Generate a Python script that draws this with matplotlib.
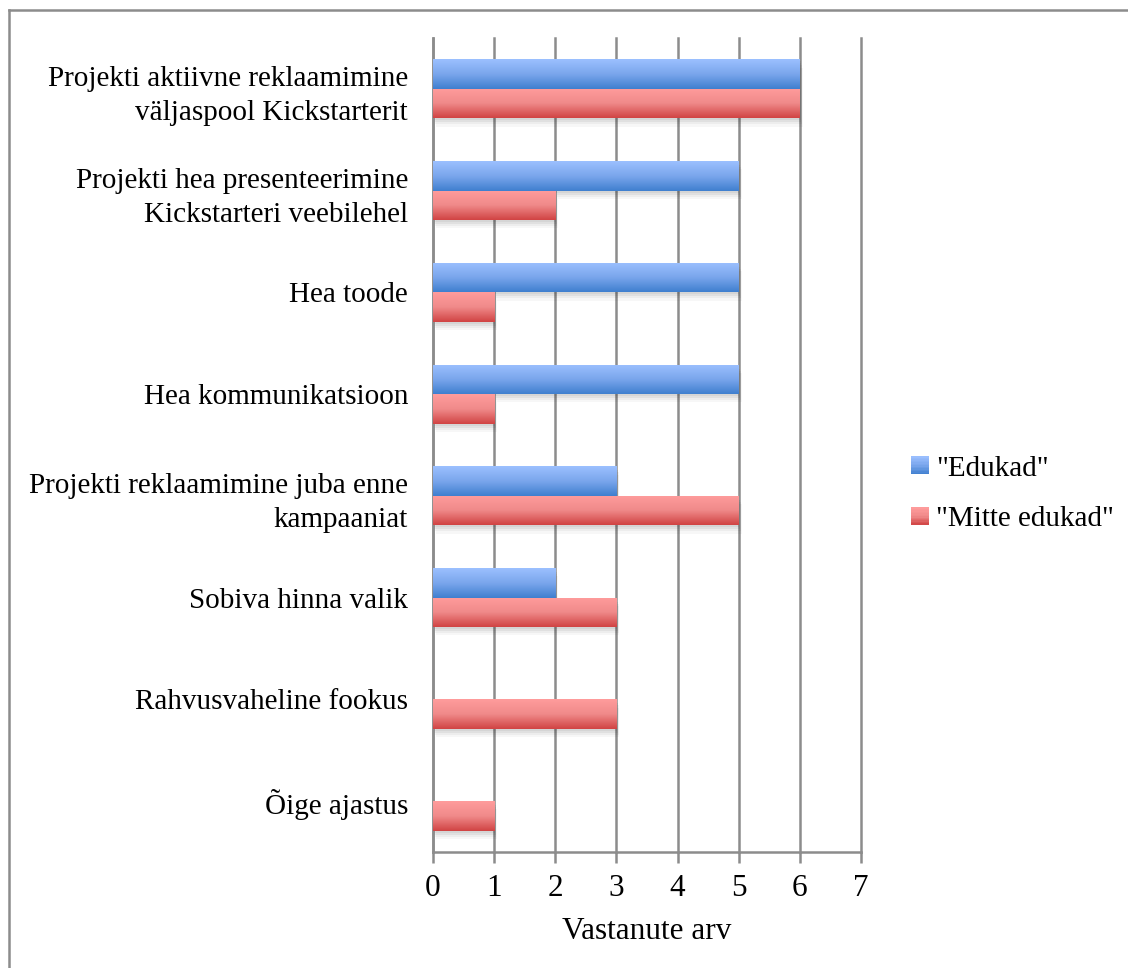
import numpy as np
import matplotlib
matplotlib.use("Agg")
import matplotlib.pyplot as plt
from matplotlib.colors import LinearSegmentedColormap
from matplotlib.patches import Rectangle
from matplotlib.lines import Line2D
from matplotlib.legend_handler import HandlerBase

categories = [
    "Projekti aktiivne reklaamimine\nväljaspool Kickstarterit",
    "Projekti hea presenteerimine\nKickstarteri veebilehel",
    "Hea toode",
    "Hea kommunikatsioon",
    "Projekti reklaamimine juba enne\nkampaaniat",
    "Sobiva hinna valik",
    "Rahvusvaheline fookus",
    "Õige ajastus",
]
edukad = [6, 5, 5, 5, 3, 2, 0, 0]
mitte_edukad = [6, 2, 1, 1, 5, 3, 3, 1]
series_names = ['"Edukad"', '"Mitte edukad"']
xticks = [0, 1, 2, 3, 4, 5, 6, 7]
xlabel = "Vastanute arv"

plt.rcParams['font.family'] = ['Liberation Serif', 'DejaVu Serif']

blue_cmap = LinearSegmentedColormap.from_list("b", ["#9cc0ff", "#7aa6ec", "#3f7fcf"])
red_cmap = LinearSegmentedColormap.from_list("r", ["#ff9c9c", "#f08a8a", "#d04343"])

fig = plt.figure(figsize=(11.28, 9.68), dpi=100)
ax = fig.add_axes([433/1128, 1-852/968, (861-433)/1128, (852-38)/968])

y = np.arange(len(categories))
h = 0.29
off = 0.145
grad = np.linspace(0, 1, 256).reshape(-1, 1)

def draw_gradient_bars(bars, cmap):
    for b in bars:
        x0, y0 = b.get_x(), b.get_y()
        w, hh = b.get_width(), b.get_height()
        if w <= 0:
            continue
        # soft shadow
        for k, a in enumerate([0.05, 0.05, 0.04, 0.03]):
            sh = Rectangle((x0 + 0.012 * (k + 1), y0 + 0.02 * (k + 1)), w, hh,
                           facecolor="#000000", alpha=a, edgecolor="none", zorder=2)
            ax.add_patch(sh)
        im = ax.imshow(grad, cmap=cmap, aspect='auto',
                       extent=(x0, x0 + w, y0 + hh, y0), zorder=3,
                       interpolation='bilinear')
        im.set_clip_path(b)

b1 = ax.barh(y - off, edukad, height=h, facecolor="none", edgecolor="none", zorder=3)
b2 = ax.barh(y + off, mitte_edukad, height=h, facecolor="none", edgecolor="none", zorder=3)
draw_gradient_bars(b1, blue_cmap)
draw_gradient_bars(b2, red_cmap)

ax.set_xlim(0, 7)
ax.set_ylim(len(categories) - 0.5, -0.5)
ax.set_xticks(xticks)
ax.set_xticklabels([str(t) for t in xticks], fontsize=22.5)
ax.set_yticks(y)
ax.set_yticklabels(categories, fontsize=21, ha='right', multialignment='right',
                   linespacing=1.42)
ax.tick_params(axis='y', length=0, pad=18)
ax.tick_params(axis='x', length=8, width=1.8, color="#8c8c8c", pad=8, direction='out')
ax.xaxis.grid(True, color="#8c8c8c", linewidth=1.8, zorder=1)
for gl in ax.get_xgridlines():
    gl.set_clip_on(False)
ax.set_axisbelow(True)
for s in ["top", "right"]:
    ax.spines[s].set_visible(False)
for s in ["left", "bottom"]:
    ax.spines[s].set_color("#8c8c8c")
    ax.spines[s].set_linewidth(1.8)
ax.set_xlabel(xlabel, fontsize=22.5, labelpad=10)


class GradHandler(HandlerBase):
    def __init__(self, cmap):
        super().__init__()
        self.cmap = cmap

    def create_artists(self, legend, orig_handle, xdescent, ydescent, width,
                       height, fontsize, trans):
        n = 12
        side = min(width, height) * 1.0
        x0 = -xdescent + width - side
        y0 = -ydescent + (height - side) / 2
        arts = []
        for i in range(n):
            c = self.cmap(1 - (i + 0.5) / n)
            r = Rectangle((x0, y0 + side * i / n), side, side / n + 0.3,
                          facecolor=c, edgecolor='none', transform=trans)
            arts.append(r)
        return arts


h1 = Rectangle((0, 0), 1, 1)
h2 = Rectangle((0, 0), 1, 1)
leg = fig.legend([h1, h2], series_names, loc='center left',
                 bbox_to_anchor=(911/1128, 1-494/968), frameon=False,
                 borderpad=0, borderaxespad=0,
                 fontsize=21, handlelength=0.6, handleheight=0.6,
                 handletextpad=0.25, labelspacing=0.85,
                 handler_map={h1: GradHandler(blue_cmap), h2: GradHandler(red_cmap)})

# outer border (left and top only visible)
fig.add_artist(Line2D([8.5/1128, 8.5/1128], [0, 1-9.5/968], transform=fig.transFigure,
                      color="#8c8c8c", linewidth=1.8))
fig.add_artist(Line2D([8.5/1128, 1], [1-9.5/968, 1-9.5/968], transform=fig.transFigure,
                      color="#8c8c8c", linewidth=1.8))

fig.savefig("out.png", dpi=100)
